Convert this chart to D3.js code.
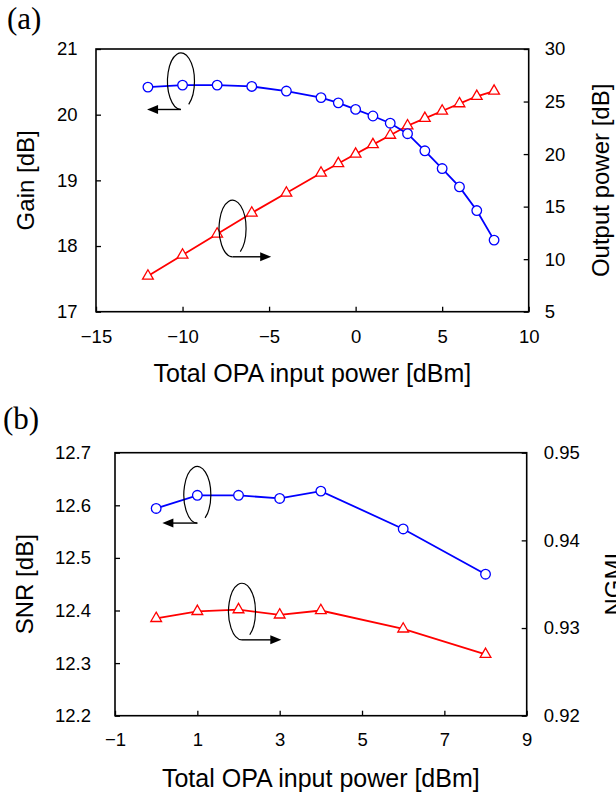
<!DOCTYPE html>
<html>
<head>
<meta charset="utf-8">
<script src="https://cdn.jsdelivr.net/npm/d3@7"></script>
<style>
    body { margin: 0; background: #fff; }
    svg text { font-family: "Liberation Sans", Arial, sans-serif; fill: #000; }
</style>
</head>
<body>
<svg id="fig" width="616" height="796"></svg>
<script>
// panel (a): gain and output power vs total OPA input power
const powerInA = [-12, -10, -8, -6, -4, -2, -1, 0, 1, 2, 3, 4, 5, 6, 7, 8];
const gainDb = [20.42, 20.45, 20.45, 20.43, 20.36, 20.26, 20.18, 20.08, 19.98, 19.87, 19.71, 19.45, 19.18, 18.90, 18.54, 18.09];
const outPowerDb = [8.4, 10.4, 12.4, 14.4, 16.3, 18.2, 19.1, 20.0, 20.9, 21.8, 22.7, 23.4, 24.1, 24.8, 25.5, 26.0];

// panel (b): SNR and NGMI
const powerInB = [0, 1, 2, 3, 4, 6, 8];
const snrDb = [12.594, 12.619, 12.619, 12.613, 12.627, 12.555, 12.469];
const ngmi = [0.9311, 0.9319, 0.9321, 0.9315, 0.9320, 0.9299, 0.9270];

// tick labels
const xTicksA = [-15, -10, -5, 0, 5, 10];
const gainTicks = [17, 18, 19, 20, 21];
const outTicks = [5, 10, 15, 20, 25, 30];
const xTicksB = [-1, 1, 3, 5, 7, 9];
const snrTicks = [12.2, 12.3, 12.4, 12.5, 12.6, 12.7];
const ngmiTicks = [0.92, 0.93, 0.94, 0.95];

// "which axis" ellipse+arrow hints, in left-axis data units
const hintsA = [{x: -10.09, y: 20.51, tip: -12.05}, {x: -7.11, y: 18.267, tip: -4.88}];
const hintsB = [{x: 1.0, y: 12.62, tip: 0.15}, {x: 2.085, y: 12.398, tip: 3.04}];

const svg = d3.select("#fig");

function ellipseHint(g, cx, cy, tipX) {
    let rx = 13.5, ry = 28.3;
    let a = 55 * Math.PI / 180;
    let ex = cx + rx * Math.cos(a), ey = cy + ry * Math.sin(a);
    g.append("path")
        .attr("d", `M${cx},${cy + ry} A${rx},${ry} 0 1 1 ${ex},${ey}`)
        .attr("fill", "none").attr("stroke", "#000").attr("stroke-width", 1.2);
    let dir = tipX < cx ? -1 : 1;
    g.append("line")
        .attr("x1", cx).attr("y1", cy + ry)
        .attr("x2", tipX - dir * 8).attr("y2", cy + ry)
        .attr("stroke", "#000").attr("stroke-width", 1.4);
    g.append("path")
        .attr("d", `M${tipX},${cy + ry} L${tipX - dir * 11},${cy + ry - 4.5} L${tipX - dir * 11},${cy + ry + 4.5} Z`)
        .attr("fill", "#000");
}

function drawPanel(p) {
    let b = p.box;
    let g = svg.append("g");
    let x = d3.scaleLinear().domain(p.xDomain).range([b.left, b.right]);
    let yL = d3.scaleLinear().domain(p.yLDomain).range([b.bottom, b.top]);
    let yR = d3.scaleLinear().domain(p.yRDomain).range([b.bottom, b.top]);

    let axB = g.append("g").attr("transform", `translate(0,${b.bottom})`)
        .call(d3.axisBottom(x).tickValues(p.xTicks).tickSizeInner(-5).tickSizeOuter(0).tickPadding(p.xPad));
    let axL = g.append("g").attr("transform", `translate(${b.left},0)`)
        .call(d3.axisLeft(yL).tickValues(p.yLTicks).tickFormat(p.yLFmt).tickSizeInner(-5).tickSizeOuter(0).tickPadding(p.lPad));
    let axR = g.append("g").attr("transform", `translate(${b.right},0)`)
        .call(d3.axisRight(yR).tickValues(p.yRTicks).tickFormat(p.yRFmt).tickSizeInner(-5).tickSizeOuter(0).tickPadding(p.rPad));
    for (let ax of [axB, axL, axR]) {
        ax.attr("font-family", null).attr("font-size", 18.5);
        ax.select(".domain").remove();
        ax.selectAll(".tick line").attr("stroke-width", 1.3);
    }

    g.append("rect")
        .attr("x", b.left).attr("y", b.top)
        .attr("width", b.right - b.left).attr("height", b.bottom - b.top)
        .attr("fill", "none").attr("stroke", "#000").attr("stroke-width", 1.6);

    // series: red on right axis, blue on left axis
    let red = d3.zip(p.xs, p.rightVals);
    let blue = d3.zip(p.xs, p.leftVals);
    g.append("path").datum(red)
        .attr("d", d3.line().x(d => x(d[0])).y(d => yR(d[1])))
        .attr("fill", "none").attr("stroke", "#ff0000").attr("stroke-width", 1.8);
    g.append("path").datum(blue)
        .attr("d", d3.line().x(d => x(d[0])).y(d => yL(d[1])))
        .attr("fill", "none").attr("stroke", "#0000ff").attr("stroke-width", 1.8);
    g.selectAll(".tri").data(red).join("path")
        .attr("transform", d => `translate(${x(d[0])},${yR(d[1])})`)
        .attr("d", d3.symbol(d3.symbolTriangle, 50))
        .attr("fill", "#fff").attr("stroke", "#ff0000").attr("stroke-width", 1.3);
    g.selectAll(".dot").data(blue).join("circle")
        .attr("cx", d => x(d[0])).attr("cy", d => yL(d[1])).attr("r", 4.8)
        .attr("fill", "#fff").attr("stroke", "#0000ff").attr("stroke-width", 1.3);

    for (let h of p.hints) {
        ellipseHint(g, x(h.x), yL(h.y), x(h.tip));
    }

    // titles
    g.append("text")
        .attr("x", (b.left + b.right) / 2).attr("y", p.xTitleY)
        .attr("text-anchor", "middle").attr("font-size", 25)
        .text("Total OPA input power [dBm]");
    g.append("text")
        .attr("transform", `translate(${p.lTitleX},${(b.top + b.bottom) / 2}) rotate(-90)`)
        .attr("text-anchor", "middle").attr("font-size", 24)
        .text(p.lTitle);
    g.append("text")
        .attr("transform", `translate(${p.rTitleX},${(b.top + b.bottom) / 2}) rotate(-90)`)
        .attr("text-anchor", "middle").attr("font-size", 24)
        .text(p.rTitle);
    g.append("text")
        .attr("x", p.tag[0]).attr("y", p.tag[1])
        .style("font-family", "'Liberation Serif', 'Times New Roman', serif")
        .attr("font-size", 31)
        .text(p.tagText);
}

drawPanel({
    box: {left: 96, right: 528.7, top: 49, bottom: 311.7},
    xDomain: [-15, 10], yLDomain: [17, 21], yRDomain: [5, 30],
    xTicks: xTicksA, yLTicks: gainTicks, yRTicks: outTicks,
    yLFmt: d3.format("d"), yRFmt: d3.format("d"),
    xPad: 18, lPad: 18.5, rPad: 16,
    xs: powerInA, leftVals: gainDb, rightVals: outPowerDb,
    hints: hintsA,
    xTitleY: 381.5, lTitleX: 33.5, rTitleX: 609,
    lTitle: "Gain [dB]", rTitle: "Output power [dB]",
    tag: [7, 29], tagText: "(a)"
});

drawPanel({
    box: {left: 115, right: 526.7, top: 452.7, bottom: 715.7},
    xDomain: [-1, 9], yLDomain: [12.2, 12.7], yRDomain: [0.92, 0.95],
    xTicks: xTicksB, yLTicks: snrTicks, yRTicks: ngmiTicks,
    yLFmt: d3.format(".1f"), yRFmt: d3.format(".2f"),
    xPad: 17, lPad: 24, rPad: 17,
    xs: powerInB, leftVals: snrDb, rightVals: ngmi,
    hints: hintsB,
    xTitleY: 787, lTitleX: 33.3, rTitleX: 622,
    lTitle: "SNR [dB]", rTitle: "NGMI",
    tag: [3, 428.5], tagText: "(b)"
});
</script>
</body>
</html>
